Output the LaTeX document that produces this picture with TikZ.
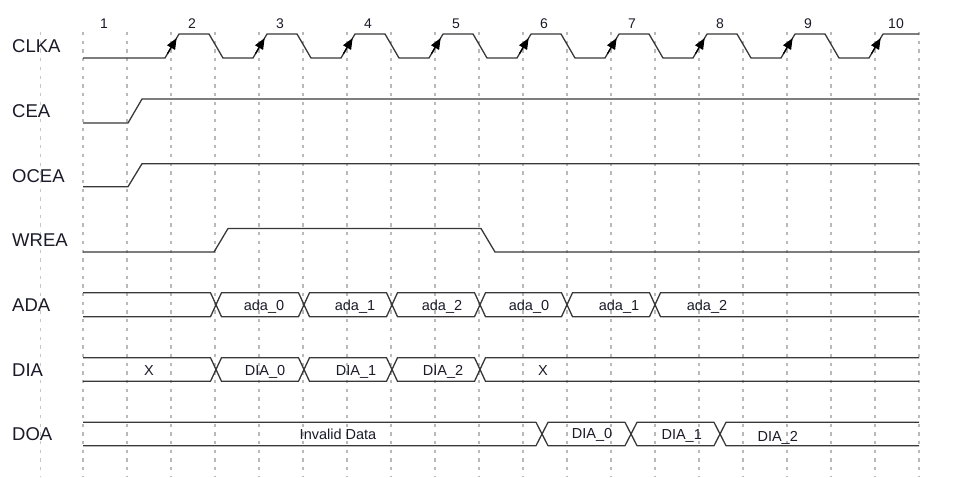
\documentclass[tikz,border=0pt]{standalone}
\usepackage{fontspec}
\setmainfont{Liberation Sans}
\usetikzlibrary{arrows.meta}
\definecolor{txt}{HTML}{1A1A28}
\begin{document}
\begin{tikzpicture}[x=1pt,y=-1pt,
  gridline/.style={draw=gray!55, line width=1.4pt, dash pattern=on 3.3pt off 5.4pt},
  sig/.style={draw=black!78, line width=1.3pt, line join=round},
  siglab/.style={font=\fontsize{18.5}{20}\selectfont, anchor=west, text=txt, inner sep=0pt},
  numlab/.style={font=\fontsize{14}{16}\selectfont, text=txt, inner sep=0pt},
  buslab/.style={font=\fontsize{14.5}{16}\selectfont, text=txt, inner sep=0pt, anchor=base},
  clkarrow/.style={-{Triangle[length=11pt,width=9pt]}, draw=black, line width=1.3pt}]
\useasboundingbox (0,0) rectangle (968,477);
% grid
\foreach \j in {0,...,19} \draw[gridline] ({83+44*\j},32) -- ({83+44*\j},477);
\draw[gridline, line width=0.8pt, draw=gray!45] (40.7,32) -- (40.7,477);
% cycle numbers
\foreach \n in {1,...,10} \node[numlab] (num\n) at ({104+88*(\n-1)},23.3) {\n};
% signal labels
\node[siglab] (lclka) at (12,46.5) {CLKA};
\node[siglab] (lcea) at (12,111.5) {CEA};
\node[siglab] (locea) at (12,175.7) {OCEA};
\node[siglab] (lwrea) at (12,240.3) {WREA};
\node[siglab] (lada) at (12,305) {ADA};
\node[siglab] (ldia) at (12,369.7) {DIA};
\node[siglab] (ldoa) at (12,434.3) {DOA};
% CLKA
\draw[sig] (83,58) foreach \k in {0,...,7} { -- ({165+88*\k},58) -- ({179+88*\k},34) -- ({209+88*\k},34) -- ({223+88*\k},58) } -- (869,58) -- (883,34) -- (919,34);
\foreach \k in {0,...,8} \draw[clkarrow] ({167.5+88*\k},53.7) -- ({176.6+88*\k},38.1);
% CEA
\draw[sig] (83,123) -- (128,123) -- (142,99) -- (919,99);
% OCEA
\draw[sig] (83,186.7) -- (128,186.7) -- (142,163.7) -- (919,163.7);
% WREA
\draw[sig] (83,252) -- (214,252) -- (228,228.5) -- (481,228.5) -- (495,252) -- (919,252);
% ADA bus
\draw[sig] (83,292.7) -- (210.5,292.7) -- (216,304.7) -- (210.5,316.7) -- (83,316.7);
\foreach \a/\b in {216/304,304/392,392/480,480/567,567/655}
  \draw[sig] (\a,304.7) -- ({\a+5.5},292.7) -- ({\b-5.5},292.7) -- (\b,304.7) -- ({\b-5.5},316.7) -- ({\a+5.5},316.7) -- cycle;
\draw[sig] (919,292.7) -- (660.5,292.7) -- (655,304.7) -- (660.5,316.7) -- (919,316.7);
% DIA bus
\draw[sig] (83,357.7) -- (210.5,357.7) -- (216,369.5) -- (210.5,381.3) -- (83,381.3);
\foreach \a/\b in {216/304,304/392,392/480}
  \draw[sig] (\a,369.5) -- ({\a+5.5},357.7) -- ({\b-5.5},357.7) -- (\b,369.5) -- ({\b-5.5},381.3) -- ({\a+5.5},381.3) -- cycle;
\draw[sig] (919,357.7) -- (485.5,357.7) -- (480,369.5) -- (485.5,381.3) -- (919,381.3);
% DOA bus
\draw[sig] (83,422.3) -- (536,422.3) -- (542,434) -- (536,445.7) -- (83,445.7);
\foreach \a/\b in {542/631,631/720}
  \draw[sig] (\a,434) -- ({\a+6},422.3) -- ({\b-6},422.3) -- (\b,434) -- ({\b-6},445.7) -- ({\a+6},445.7) -- cycle;
\draw[sig] (919,422.3) -- (726,422.3) -- (720,434) -- (726,445.7) -- (919,445.7);
% bus labels
\node[buslab] (a0) at (264,310.3) {ada\_0};
\node[buslab] (a1) at (355,310.3) {ada\_1};
\node[buslab] (a2) at (442,310.3) {ada\_2};
\node[buslab] (a3) at (529,310.3) {ada\_0};
\node[buslab] (a4) at (619,310.3) {ada\_1};
\node[buslab] (a5) at (707,310.3) {ada\_2};
\node[buslab] (d0) at (149,375) {X};
\node[buslab] (d1) at (265,375) {DIA\_0};
\node[buslab] (d2) at (356,375) {DIA\_1};
\node[buslab] (d3) at (443,375) {DIA\_2};
\node[buslab] (d4) at (543,375) {X};
\node[buslab] (o0) at (338,439.6) {Invalid Data};
\node[buslab] (o1) at (592,438.3) {DIA\_0};
\node[buslab] (o2) at (681.7,439.6) {DIA\_1};
\node[buslab] (o3) at (777.7,441) {DIA\_2};
\end{tikzpicture}
\end{document}
